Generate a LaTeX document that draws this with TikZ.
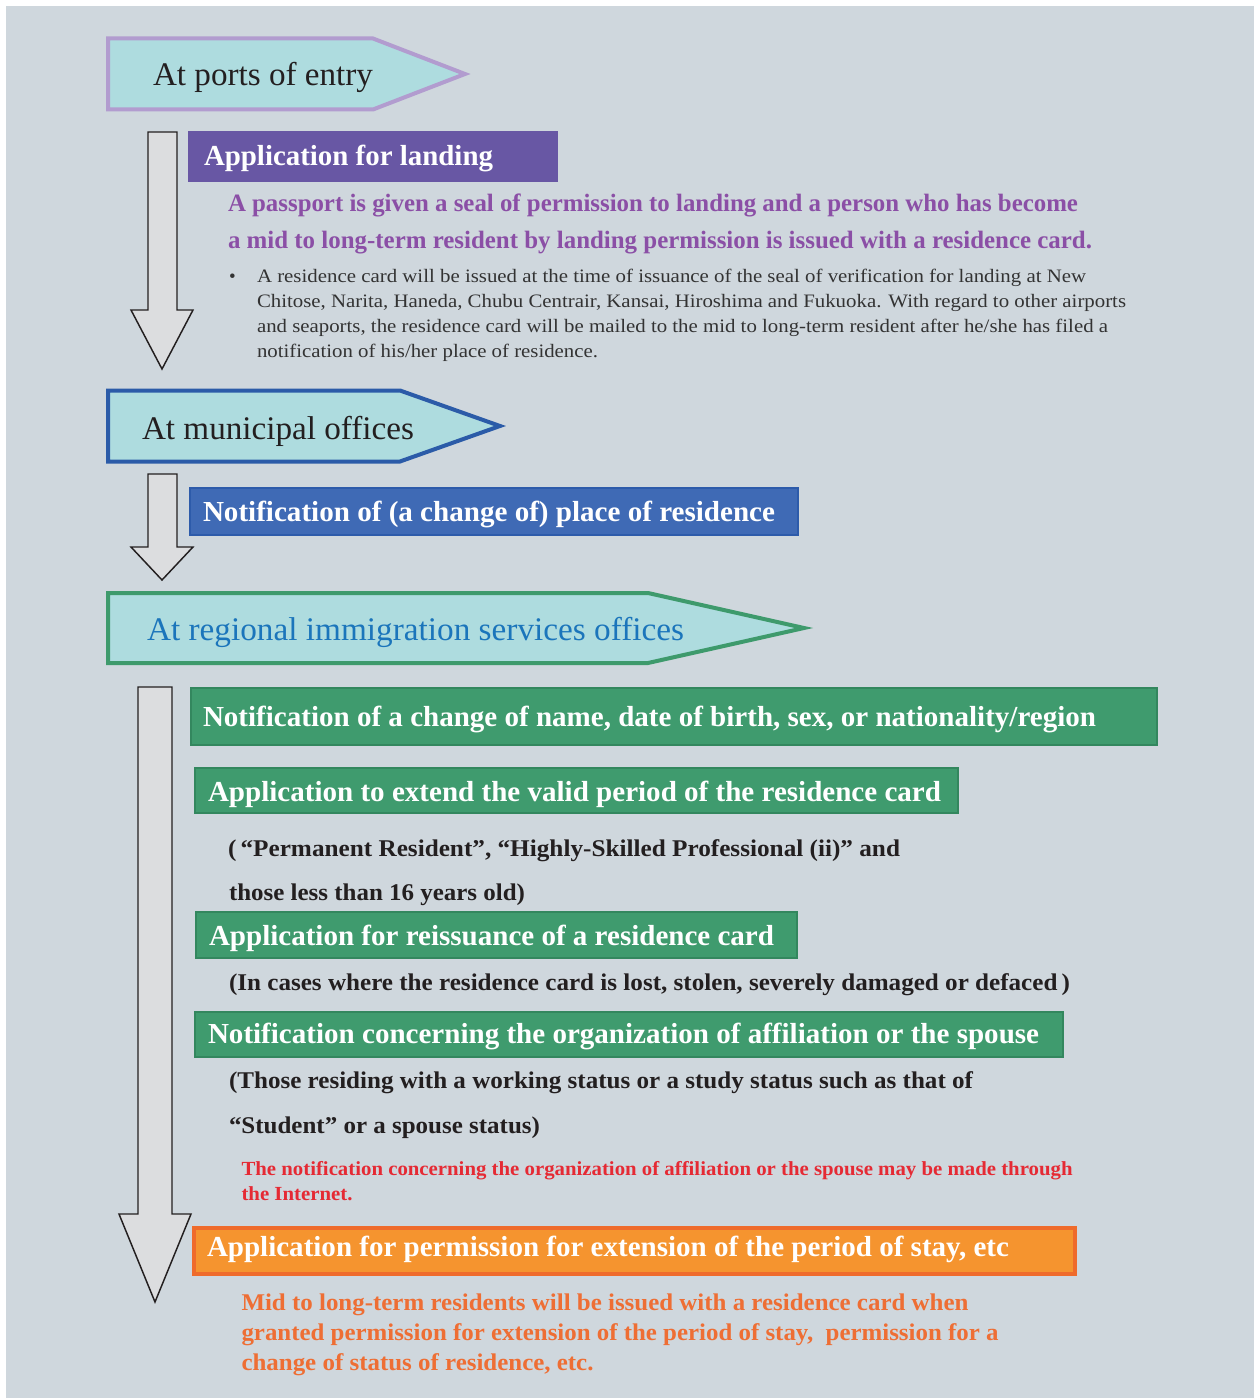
\documentclass[tikz,border=0pt]{standalone}
\usepackage{fontspec}
\setmainfont{Liberation Serif}
\usetikzlibrary{fit}
\newlength\pxu \setlength\pxu{0.75pt}
% squeeze or stretch a line horizontally to a given width in pixels
\newcommand\hfit[2]{\resizebox{#1\pxu}{\height}{#2}}

\definecolor{bgc}{HTML}{CFD7DD}
\definecolor{bannerfill}{HTML}{AEDCDF}
\definecolor{lavender}{HTML}{B29CCF}
\definecolor{munblue}{HTML}{2B5BA8}
\definecolor{imgreen}{HTML}{3E9A6C}
\definecolor{imtext}{HTML}{1B75BB}
\definecolor{inkdark}{HTML}{231F20}
\definecolor{purplebox}{HTML}{6857A4}
\definecolor{purpletext}{HTML}{8B4FA6}
\definecolor{bodygrey}{HTML}{333333}
\definecolor{bluebox}{HTML}{3F6AB5}
\definecolor{blueedge}{HTML}{2D5BAA}
\definecolor{greenbox}{HTML}{3F9B6E}
\definecolor{greenedge}{HTML}{33875E}
\definecolor{arrowfill}{HTML}{DCDDDF}
\definecolor{notered}{HTML}{E52A34}
\definecolor{orangebox}{HTML}{F5942F}
\definecolor{orangeedge}{HTML}{EF6B2B}
\definecolor{orangetext}{HTML}{EE6E34}

\tikzset{
  banner/.style={fill=bannerfill, line width=3pt, line join=miter},
  bigarrow/.style={fill=arrowfill, draw=inkdark, line width=1.1pt, line join=miter},
  box/.style={inner sep=0pt, line width=1.5pt},
  purplestep/.style={box, fill=purplebox, draw=purplebox},
  bluestep/.style={box, fill=bluebox, draw=blueedge},
  greenstep/.style={box, fill=greenbox, draw=greenedge},
  orangestep/.style={box, fill=orangebox, draw=orangeedge, line width=2.4pt},
  lbl/.style={anchor=base west, inner sep=0pt, outer sep=0pt},
  bannertext/.style={lbl, font=\fontsize{24.75}{30}\selectfont},
  boxtext/.style={lbl, text=white, font=\fontsize{21.75}{26}\selectfont\bfseries},
  purpleline/.style={lbl, text=purpletext, font=\fontsize{18.75}{23}\selectfont\bfseries},
  bodyline/.style={lbl, text=bodygrey, font=\fontsize{14.25}{18}\selectfont},
  parenline/.style={lbl, text=inkdark, font=\fontsize{18}{22}\selectfont\bfseries},
  redline/.style={lbl, text=notered, font=\fontsize{15}{18}\selectfont\bfseries},
  orangeline/.style={lbl, text=orangetext, font=\fontsize{18}{22}\selectfont\bfseries},
}

\begin{document}
\begin{tikzpicture}[x=0.75pt, y=-0.75pt]
\useasboundingbox (0,0) rectangle (1254,1398);
\fill[bgc] (6,6) rectangle (1254,1398);

% ---- section banners ----
\draw[banner, draw=lavender] (108,38.5) -- (373,38.5) -- (465,74) -- (373,109.5) -- (108,109.5) -- cycle;
\node[bannertext, text=inkdark] (ports) at (153,86) {\hfit{220}{At ports of entry}};

\draw[banner, draw=munblue] (108,390.5) -- (400,390.5) -- (500,426) -- (400,461.5) -- (108,461.5) -- cycle;
\node[bannertext, text=inkdark] (municipal) at (142,439) {\hfit{272}{At municipal offices}};

\draw[banner, draw=imgreen] (108,593) -- (648,593) -- (804,628) -- (648,663) -- (108,663) -- cycle;
\node[bannertext, text=imtext] (regional) at (147,640) {\hfit{537}{At regional immigration services offices}};

% ---- downward flow arrows ----
\draw[bigarrow] (148,132) -- (177,132) -- (177,310) -- (193,310) -- (162,369) -- (131,310) -- (148,310) -- cycle;
\draw[bigarrow] (148,474) -- (177,474) -- (177,547) -- (193,547) -- (162,580) -- (131,547) -- (148,547) -- cycle;
\draw[bigarrow] (138,687) -- (172,687) -- (172,1214) -- (191,1214) -- (155,1302) -- (119,1214) -- (138,1214) -- cycle;

% ---- ports of entry ----
\node[purplestep, fit={(189,132.5)(557,181)}] (landing) {};
\node[boxtext] (landingtxt) at (204,166) {\hfit{289}{Application for landing}};

\node[purpleline] (seal1) at (228,211.5) {\hfit{850}{A passport is given a seal of permission to landing and a person who has become}};
\node[purpleline] (seal2) at (228,248.5) {\hfit{864}{a mid to long-term resident by landing permission is issued with a residence card.}};

\node[bodyline] (bullet) at (229,282) {\textbullet};
\node[bodyline] (note1) at (257,282) {\hfit{829}{A residence card will be issued at the time of issuance of the seal of verification for landing at New}};
\node[bodyline] (note2) at (257,307) {\hfit{869}{Chitose, Narita, Haneda, Chubu Centrair, Kansai, Hiroshima and Fukuoka. With regard to other airports}};
\node[bodyline] (note3) at (257,332) {\hfit{851}{and seaports, the residence card will be mailed to the mid to long-term resident after he/she has filed a}};
\node[bodyline] (note4) at (257,357) {\hfit{341}{notification of his/her place of residence.}};

% ---- municipal offices ----
\node[bluestep, fit={(190,488)(798,535)}] (residence) {};
\node[boxtext] (residencetxt) at (203,521.5) {\hfit{572}{Notification of (a change of) place of residence}};

% ---- regional immigration services offices ----
\node[greenstep, fit={(191,688)(1157,745)}] (change) {};
\node[boxtext] (changetxt) at (203,726.5) {\hfit{893}{Notification of a change of name, date of birth, sex, or nationality/region}};

\node[greenstep, fit={(195,768)(958,813)}] (extend) {};
\node[boxtext] (extendtxt) at (208,801) {\hfit{733}{Application to extend the valid period of the residence card}};

\node[parenline] (extendnote1) at (228,856) {\hfit{672}{(\,“Permanent Resident”, “Highly-Skilled Professional (ii)” and}};
\node[parenline] (extendnote2) at (229,900) {\hfit{296}{those less than 16 years old)}};

\node[greenstep, fit={(196,912)(797,958)}] (reissue) {};
\node[boxtext] (reissuetxt) at (209,945) {\hfit{565}{Application for reissuance of a residence card}};

\node[parenline] (reissuenote) at (229,990.5) {\hfit{841}{(In cases where the residence card is lost, stolen, severely damaged or defaced\,)}};

\node[greenstep, fit={(195,1012)(1063,1057)}] (affil) {};
\node[boxtext] (affiltxt) at (208,1043) {\hfit{831}{Notification concerning the organization of affiliation or the spouse}};

\node[parenline] (affilnote1) at (229,1088) {\hfit{744}{(Those residing with a working status or a study status such as that of}};
\node[parenline] (affilnote2) at (229,1133) {\hfit{311}{“Student” or a spouse status)}};

\node[redline] (online1) at (241.5,1175) {\hfit{831}{The notification concerning the organization of affiliation or the spouse may be made through}};
\node[redline] (online2) at (241.5,1200) {\hfit{111}{the Internet.}};

\node[orangestep, fit={(194,1228)(1075,1274)}] (stay) {};
\node[boxtext] (staytxt) at (207,1256.5) {\hfit{802}{Application for permission for extension of the period of stay, etc}};

\node[orangeline] (issued1) at (241.5,1310) {\hfit{727}{Mid to long-term residents will be issued with a residence card when}};
\node[orangeline] (issued2) at (241.5,1340) {\hfit{757}{granted permission for extension of the period of stay,\ \ permission for a}};
\node[orangeline] (issued3) at (241.5,1370) {\hfit{352}{change of status of residence, etc.}};
\end{tikzpicture}
\end{document}
